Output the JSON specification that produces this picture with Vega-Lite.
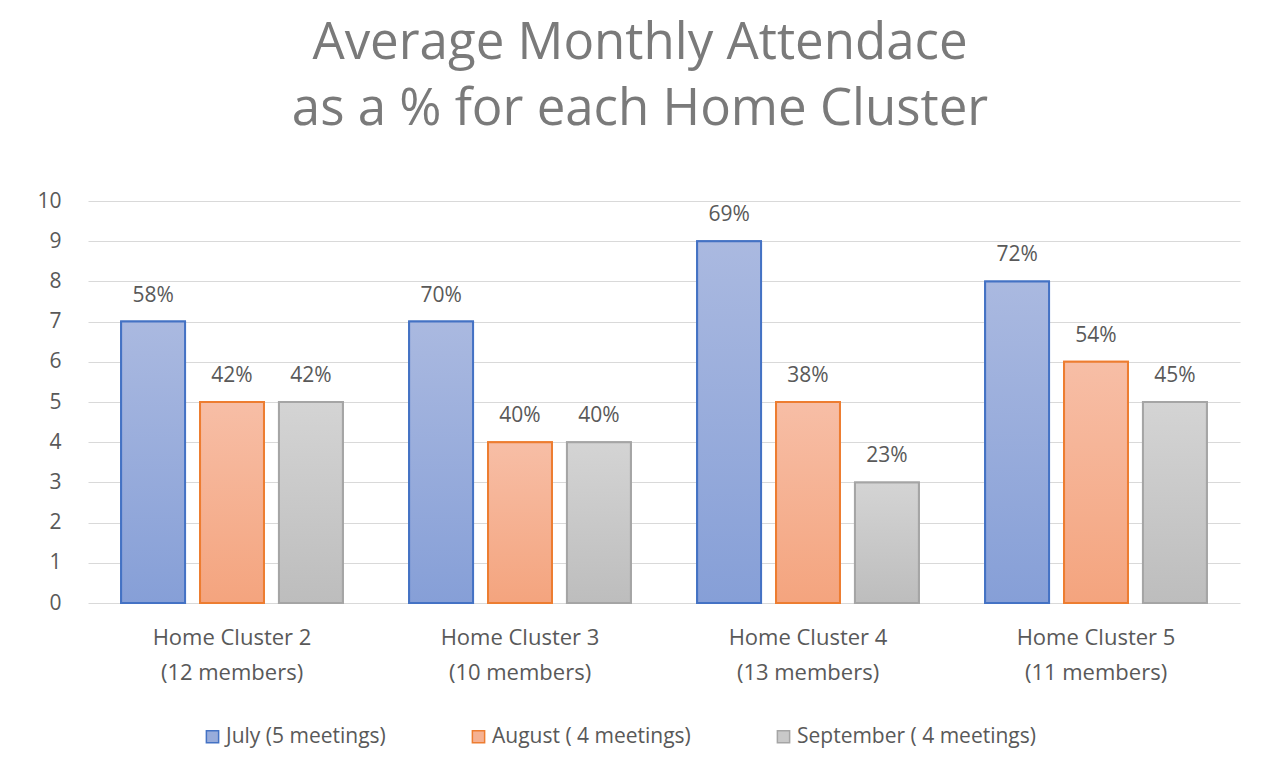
{
  "$schema": "https://vega.github.io/schema/vega-lite/v6.json",
  "width": 1152,
  "height": 402,
  "autosize": {"type": "none"},
  "padding": {"left": 88, "top": 201, "right": 28, "bottom": 166},
  "background": "white",
  "title": {
    "text": ["Average Monthly Attendace", "as a % for each Home Cluster"],
    "font": "Open Sans",
    "fontSize": 51,
    "fontWeight": "normal",
    "color": "#7a7a7a",
    "lineHeight": 66,
    "offset": 54,
    "dx": -24,
    "anchor": "middle"
  },
  "config": {
    "view": {"stroke": null},
    "font": "Open Sans",
    "axis": {"labelFont": "Open Sans", "labelColor": "#595959", "labelFontSize": 21},
    "legend": {"labelFont": "Open Sans", "labelColor": "#595959", "labelFontSize": 21}
  },
  "data": {
    "values": [
      {"cluster": "Home Cluster 2|(12 members)", "month": "July (5 meetings)", "value": 7, "pct": "58%"},
      {"cluster": "Home Cluster 2|(12 members)", "month": "August ( 4 meetings)", "value": 5, "pct": "42%"},
      {"cluster": "Home Cluster 2|(12 members)", "month": "September ( 4 meetings)", "value": 5, "pct": "42%"},
      {"cluster": "Home Cluster 3|(10 members)", "month": "July (5 meetings)", "value": 7, "pct": "70%"},
      {"cluster": "Home Cluster 3|(10 members)", "month": "August ( 4 meetings)", "value": 4, "pct": "40%"},
      {"cluster": "Home Cluster 3|(10 members)", "month": "September ( 4 meetings)", "value": 4, "pct": "40%"},
      {"cluster": "Home Cluster 4|(13 members)", "month": "July (5 meetings)", "value": 9, "pct": "69%"},
      {"cluster": "Home Cluster 4|(13 members)", "month": "August ( 4 meetings)", "value": 5, "pct": "38%"},
      {"cluster": "Home Cluster 4|(13 members)", "month": "September ( 4 meetings)", "value": 3, "pct": "23%"},
      {"cluster": "Home Cluster 5|(11 members)", "month": "July (5 meetings)", "value": 8, "pct": "72%"},
      {"cluster": "Home Cluster 5|(11 members)", "month": "August ( 4 meetings)", "value": 6, "pct": "54%"},
      {"cluster": "Home Cluster 5|(11 members)", "month": "September ( 4 meetings)", "value": 5, "pct": "45%"}
    ]
  },
  "encoding": {
    "x": {
      "field": "cluster",
      "type": "nominal",
      "scale": {"paddingInner": 0.23, "paddingOuter": 0.115},
      "axis": {
        "title": null,
        "labelAngle": 0,
        "domain": false,
        "ticks": false,
        "labelPadding": 24,
        "labelLineHeight": 35,
        "labelFontSize": 22,
        "labelExpr": "split(datum.label, '|')"
      }
    },
    "xOffset": {
      "field": "month",
      "type": "nominal",
      "scale": {
        "domain": ["July (5 meetings)", "August ( 4 meetings)", "September ( 4 meetings)"],
        "paddingInner": 0.19,
        "paddingOuter": 0
      }
    },
    "y": {
      "field": "value",
      "type": "quantitative",
      "scale": {"domain": [0, 10]},
      "axis": {
        "title": null,
        "values": [0, 1, 2, 3, 4, 5, 6, 7, 8, 9, 10],
        "domain": false,
        "ticks": false,
        "labelPadding": 27,
        "gridColor": "#d9d9d9",
        "gridWidth": 1.2
      }
    }
  },
  "layer": [
    {
      "mark": {"type": "bar", "strokeWidth": 2},
      "encoding": {
        "fill": {
          "field": "month",
          "type": "nominal",
          "scale": {
            "domain": ["July (5 meetings)", "August ( 4 meetings)", "September ( 4 meetings)"],
            "range": ["#98acdb", "#f5b192", "#c9c9c9"]
          },
          "legend": {
            "title": null,
            "orient": "none",
            "legendX": 114,
            "legendY": 525,
            "direction": "horizontal",
            "symbolType": "square",
            "symbolSize": 150,
            "symbolStrokeWidth": 1.5,
            "columnPadding": 82,
            "labelLimit": 400,
            "labelOffset": 3
          }
        },
        "stroke": {
          "field": "month",
          "type": "nominal",
          "scale": {
            "domain": ["July (5 meetings)", "August ( 4 meetings)", "September ( 4 meetings)"],
            "range": ["#4472c4", "#ed7d31", "#a5a5a5"]
          },
          "legend": {
            "title": null,
            "orient": "none",
            "legendX": 114,
            "legendY": 525,
            "direction": "horizontal",
            "symbolType": "square",
            "symbolSize": 150,
            "symbolStrokeWidth": 1.5,
            "columnPadding": 82,
            "labelLimit": 400,
            "labelOffset": 3
          }
        }
      }
    },
    {
      "transform": [{"filter": "datum.month === 'July (5 meetings)'"}],
      "mark": {
        "type": "bar",
        "stroke": "#4472c4",
        "strokeWidth": 2,
        "fill": {"gradient": "linear", "x1": 0, "y1": 0, "x2": 0, "y2": 1,
          "stops": [{"offset": 0, "color": "#aab9e0"}, {"offset": 1, "color": "#869fd7"}]}
      },
      "encoding": {}
    },
    {
      "transform": [{"filter": "datum.month === 'August ( 4 meetings)'"}],
      "mark": {
        "type": "bar",
        "stroke": "#ed7d31",
        "strokeWidth": 2,
        "fill": {"gradient": "linear", "x1": 0, "y1": 0, "x2": 0, "y2": 1,
          "stops": [{"offset": 0, "color": "#f7bea6"}, {"offset": 1, "color": "#f4a47e"}]}
      },
      "encoding": {}
    },
    {
      "transform": [{"filter": "datum.month === 'September ( 4 meetings)'"}],
      "mark": {
        "type": "bar",
        "stroke": "#a5a5a5",
        "strokeWidth": 2,
        "fill": {"gradient": "linear", "x1": 0, "y1": 0, "x2": 0, "y2": 1,
          "stops": [{"offset": 0, "color": "#d4d4d4"}, {"offset": 1, "color": "#bdbdbd"}]}
      },
      "encoding": {}
    },
    {
      "mark": {"type": "text", "baseline": "bottom", "dy": -16, "fontSize": 21, "color": "#595959", "font": "Open Sans"},
      "encoding": {"text": {"field": "pct"}}
    }
  ]
}
